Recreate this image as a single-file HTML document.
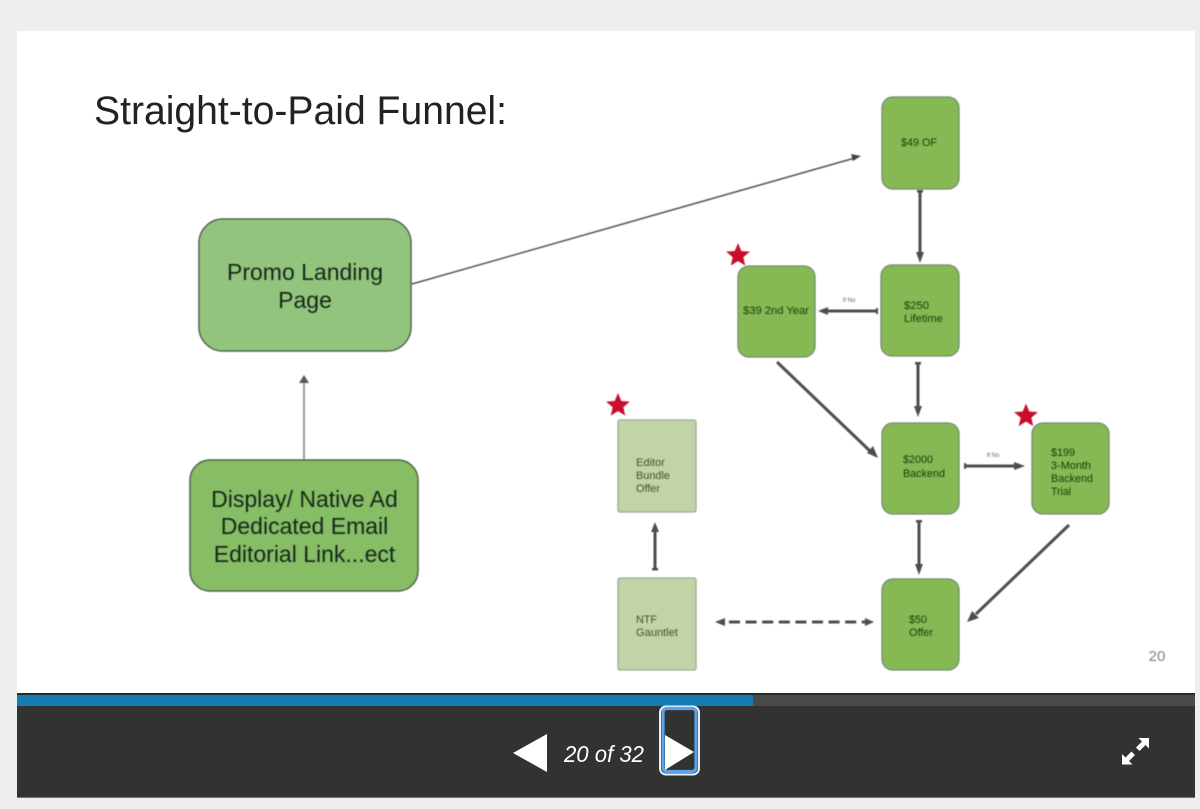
<!DOCTYPE html>
<html>
<head>
<meta charset="utf-8">
<style>
html,body{margin:0;padding:0;width:1200px;height:809px;overflow:hidden;background:#eeeeee}
svg{display:block;position:absolute;left:0;top:0}
text{font-family:"Liberation Sans",sans-serif}
</style>
</head>
<body>
<svg width="1200" height="809" viewBox="0 0 1200 809" xmlns="http://www.w3.org/2000/svg">
<defs>
<filter id="b" x="-5%" y="-5%" width="110%" height="110%"><feGaussianBlur stdDeviation="0.5"/></filter>
<filter id="t" x="-10%" y="-10%" width="120%" height="120%"><feGaussianBlur stdDeviation="0.4"/></filter>
</defs>
<rect x="0" y="0" width="1200" height="809" fill="#eeeeee"/>
<rect x="17" y="31" width="1178" height="662" fill="#ffffff"/>

<text x="94" y="124" font-size="40" fill="#222222" textLength="413" lengthAdjust="spacingAndGlyphs">Straight-to-Paid Funnel:</text>
<text x="1157" y="661" font-size="15" fill="#808080" text-anchor="middle" filter="url(#t)">20</text>

<g filter="url(#b)">
<!-- large boxes -->
<rect x="199" y="219" width="212" height="132" rx="24" fill="#93c47d" stroke="#4f5e49" stroke-width="1.5"/>
<rect x="190" y="460" width="228" height="131" rx="20" fill="#86bd65" stroke="#4f5e49" stroke-width="1.5"/>

<!-- small green boxes -->
<rect x="882" y="97" width="77" height="92" rx="11" fill="#86b952" stroke="#76896f" stroke-width="1.3"/>
<rect x="881" y="265" width="78" height="91" rx="11" fill="#86b952" stroke="#76896f" stroke-width="1.3"/>
<rect x="738" y="266" width="77" height="91" rx="11" fill="#86b952" stroke="#76896f" stroke-width="1.3"/>
<rect x="882" y="423" width="77" height="91" rx="11" fill="#86b952" stroke="#76896f" stroke-width="1.3"/>
<rect x="1032" y="423" width="77" height="91" rx="11" fill="#86b952" stroke="#76896f" stroke-width="1.3"/>
<rect x="882" y="579" width="77" height="91" rx="11" fill="#86b952" stroke="#76896f" stroke-width="1.3"/>

<!-- pale boxes -->
<rect x="618" y="420" width="78" height="92" rx="2" fill="#c3d3a8" stroke="#9da994" stroke-width="1.3"/>
<rect x="618" y="578" width="78" height="92" rx="2" fill="#c3d3a8" stroke="#9da994" stroke-width="1.3"/>

<!-- thin connectors -->
<line x1="412" y1="284" x2="853" y2="158.5" stroke="#555555" stroke-width="1.5"/>
<polygon points="861,156 851,154 853,161" fill="#444444"/>
<line x1="304" y1="459" x2="304" y2="382" stroke="#808080" stroke-width="1.5"/>
<polygon points="304,375 299,383 309,383" fill="#5a5a5a"/>

<!-- thick connectors -->
<g stroke="#4d4d4d" stroke-width="3" fill="#4d4d4d">
<line x1="920" y1="191" x2="920" y2="258"/>
<line x1="877" y1="311" x2="826" y2="311"/>
<line x1="918" y1="362" x2="918" y2="410"/>
<line x1="777" y1="362" x2="870" y2="451"/>
<line x1="965" y1="466" x2="1018" y2="466"/>
<line x1="919" y1="520" x2="919" y2="568"/>
<line x1="1069" y1="525" x2="976" y2="614"/>
<line x1="655" y1="569" x2="655" y2="530"/>
<line x1="729" y1="622" x2="868" y2="622" stroke-dasharray="11 5.6"/>
</g>
<g fill="#4d4d4d">
<polygon points="920,263 916,252 924,252"/>
<polygon points="818,311 828,307 828,315"/>
<polygon points="918,417 914,406 922,406"/>
<polygon points="878,458 867,453 873,446"/>
<polygon points="1025,466 1014,462 1014,470"/>
<polygon points="919,575 915,564 923,564"/>
<polygon points="967,622 972,611 979,618"/>
<polygon points="655,522 651,532 659,532"/>
<polygon points="715,622 725,618 725,626"/>
<polygon points="874,622 865,618 865,626"/>
<rect x="917" y="190" width="6" height="2.5"/>
<rect x="876" y="308" width="2" height="6"/>
<rect x="915" y="362" width="6" height="2.5"/>
<rect x="964" y="463" width="2" height="6"/>
<rect x="916" y="520" width="6" height="2.5"/>
<rect x="652" y="568" width="6" height="2.5"/>
</g>

<!-- stars -->
<g fill="#c8102e">
<polygon transform="translate(738 255.5)" points="0,-12.5 3.3,-4.5 11.9,-3.9 5.3,1.7 7.3,10.1 0,5.6 -7.3,10.1 -5.3,1.7 -11.9,-3.9 -3.3,-4.5"/>
<polygon transform="translate(618 405.5)" points="0,-12.5 3.3,-4.5 11.9,-3.9 5.3,1.7 7.3,10.1 0,5.6 -7.3,10.1 -5.3,1.7 -11.9,-3.9 -3.3,-4.5"/>
<polygon transform="translate(1026 416)" points="0,-12.5 3.3,-4.5 11.9,-3.9 5.3,1.7 7.3,10.1 0,5.6 -7.3,10.1 -5.3,1.7 -11.9,-3.9 -3.3,-4.5"/>
</g>
</g>

<!-- large box labels -->
<g filter="url(#t)" fill="#13281a" font-size="23" text-anchor="middle">
<text x="305" y="280">Promo Landing</text>
<text x="305" y="308">Page</text>
<text x="304.500" y="507">Display/ Native Ad</text>
<text x="304.500" y="534">Dedicated Email</text>
<text x="304.500" y="562">Editorial Link...ect</text>
</g>

<!-- small labels -->
<g filter="url(#t)" fill="#17400c" font-size="11">
<text x="901" y="146" textLength="36" lengthAdjust="spacingAndGlyphs">$49 OF</text>
<text x="743" y="314" textLength="66" lengthAdjust="spacingAndGlyphs">$39 2nd Year</text>
<text x="904" y="309" textLength="25" lengthAdjust="spacingAndGlyphs">$250</text>
<text x="904" y="322" textLength="39" lengthAdjust="spacingAndGlyphs">Lifetime</text>
<text x="903" y="463" textLength="30" lengthAdjust="spacingAndGlyphs">$2000</text>
<text x="903" y="477" textLength="42" lengthAdjust="spacingAndGlyphs">Backend</text>
<text x="1051" y="456" textLength="24" lengthAdjust="spacingAndGlyphs">$199</text>
<text x="1051" y="469" textLength="40" lengthAdjust="spacingAndGlyphs">3-Month</text>
<text x="1051" y="482" textLength="42" lengthAdjust="spacingAndGlyphs">Backend</text>
<text x="1051" y="495" textLength="20" lengthAdjust="spacingAndGlyphs">Trial</text>
<text x="909" y="623" textLength="18" lengthAdjust="spacingAndGlyphs">$50</text>
<text x="909" y="636" textLength="24" lengthAdjust="spacingAndGlyphs">Offer</text>
</g>
<g filter="url(#t)" fill="#3a5530" font-size="11">
<text x="636" y="466" textLength="29" lengthAdjust="spacingAndGlyphs">Editor</text>
<text x="636" y="479" textLength="34" lengthAdjust="spacingAndGlyphs">Bundle</text>
<text x="636" y="492" textLength="24" lengthAdjust="spacingAndGlyphs">Offer</text>
<text x="636" y="623" textLength="21" lengthAdjust="spacingAndGlyphs">NTF</text>
<text x="636" y="636" textLength="42" lengthAdjust="spacingAndGlyphs">Gauntlet</text>
</g>
<g filter="url(#t)" fill="#666666" font-size="6" text-anchor="middle">
<text x="849" y="302">If No</text>
<text x="993" y="457">If No</text>
</g>

<!-- player bar -->
<rect x="17" y="693" width="1178" height="104" fill="#323232"/>
<rect x="17" y="693" width="1178" height="2" fill="#2a2a2a"/>
<rect x="17" y="695" width="1178" height="11" fill="#4a4a4a"/>
<rect x="17" y="695" width="736" height="11" fill="#137cb5"/>
<rect x="17" y="797" width="1178" height="1" fill="#777777"/>

<polygon points="513,753 547,734 547,772" fill="#ffffff"/>
<text x="564" y="762" font-size="23" font-style="italic" fill="#ffffff" textLength="80" lengthAdjust="spacingAndGlyphs">20 of 32</text>

<rect x="660" y="706.500" width="39" height="68" rx="6" fill="none" stroke="#e8f2fc" stroke-width="2"/>
<rect x="663" y="708.500" width="33" height="63" rx="4" fill="none" stroke="#5ba3e6" stroke-width="3.200"/>
<polygon points="665,735 694,752 665,770" fill="#ffffff"/>

<!-- fullscreen icon -->
<g fill="#ffffff">
<polygon points="1149,738 1149,748.500 1145.500,745 1139.500,751 1136,747.500 1142,741.500 1138.500,738"/>
<polygon points="1122,764.500 1122,754 1125.500,757.500 1131.500,751.500 1135,755 1129,761 1132.500,764.500"/>
</g>
</svg>
</body>
</html>
